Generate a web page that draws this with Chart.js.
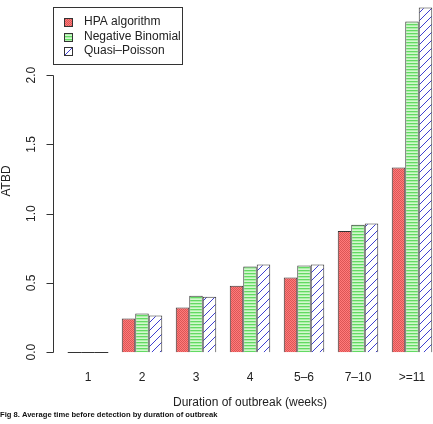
<!DOCTYPE html>
<html>
<head>
<meta charset="utf-8">
<script src="https://cdn.jsdelivr.net/npm/chart.js@4/dist/chart.umd.min.js"></script>
<style>
  html, body { margin: 0; padding: 0; background: #fff; overflow: hidden; }
  #wrap { position: absolute; left: 0; top: 0; width: 460px; height: 424px; }
</style>
</head>
<body>
<div id="wrap"><canvas id="chart" width="460" height="424"></canvas></div>
<script>
const categories = ['1', '2', '3', '4', '5\u20136', '7\u201310', '>=11']
const seriesNames = ['HPA algorithm', 'Negative Binomial', 'Quasi\u2013Poisson']
const hpa = [0, 0.243, 0.323, 0.479, 0.539, 0.874, 1.334]
const negBinomial = [0, 0.279, 0.407, 0.619, 0.626, 0.919, 2.388]
const quasiPoisson = [0, 0.265, 0.400, 0.633, 0.633, 0.929, 2.489]
const yTicks = [0, 0.5, 1, 1.5, 2]
const yTickLabels = ['0.0', '0.5', '1.0', '1.5', '2.0']
const xTitle = 'Duration of outbreak (weeks)'
const yTitle = 'ATBD'
const caption = 'Fig 8. Average time before detection by duration of outbreak'

const FONT = '"Liberation Sans", Arial, Helvetica, sans-serif'

function makePattern (w, h, paint) {
  const c = document.createElement('canvas')
  c.width = w
  c.height = h
  const g = c.getContext('2d')
  paint(g)
  return g.createPattern(c, 'repeat')
}

// red, dense cross shading
const hpaFill = makePattern(2, 2, g => {
  g.fillStyle = '#ff7b7b'
  g.fillRect(0, 0, 2, 2)
  g.fillStyle = '#dc5656'
  g.fillRect(0, 0, 1, 1)
  g.fillRect(1, 1, 1, 1)
})
// green, horizontal lines
const nbFill = makePattern(1, 3, g => {
  g.fillStyle = '#62da62'
  g.fillRect(0, 0, 1, 1)
  g.fillStyle = '#aef0aa'
  g.fillRect(0, 1, 1, 1)
  g.fillStyle = '#d2f8ce'
  g.fillRect(0, 2, 1, 1)
})
// white, blue diagonal lines (crisp pixels)
const qpFill = makePattern(8, 8, g => {
  g.fillStyle = '#ffffff'
  g.fillRect(0, 0, 8, 8)
  g.fillStyle = '#4040d0'
  for (let i = 0; i < 8; i++) g.fillRect(i, 7 - i, 1, 1)
})
const fills = [hpaFill, nbFill, qpFill]

const rAxes = {
  id: 'rAxes',
  afterDatasetsDraw (chart) {
    const ctx = chart.ctx
    // zero-height bars show as a flat line
    ctx.save()
    ctx.strokeStyle = '#333'
    ctx.lineWidth = 1
    chart.data.datasets.forEach((ds, i) => {
      chart.getDatasetMeta(i).data.forEach((bar, j) => {
        if (ds.data[j] === 0) {
          ctx.beginPath()
          ctx.moveTo(bar.x - bar.width / 2, Math.round(bar.y) + 0.5)
          ctx.lineTo(bar.x + bar.width / 2, Math.round(bar.y) + 0.5)
          ctx.stroke()
        }
      })
    })
    ctx.restore()
  },
  afterDraw (chart) {
    const ctx = chart.ctx
    const y = chart.scales.y
    const x = chart.scales.x
    const axisX = 53.5
    ctx.save()
    ctx.strokeStyle = '#333'
    ctx.lineWidth = 1
    ctx.beginPath()
    ctx.moveTo(axisX, Math.round(y.getPixelForValue(yTicks[0])) + 0.5)
    ctx.lineTo(axisX, Math.round(y.getPixelForValue(yTicks[yTicks.length - 1])) + 0.5)
    yTicks.forEach(v => {
      const py = Math.round(y.getPixelForValue(v)) + 0.5
      ctx.moveTo(axisX, py)
      ctx.lineTo(axisX - 7, py)
    })
    ctx.stroke()

    ctx.fillStyle = '#222'
    ctx.font = '12px ' + FONT
    ctx.textAlign = 'center'
    ctx.textBaseline = 'middle'
    yTicks.forEach((v, i) => {
      ctx.save()
      ctx.translate(32, y.getPixelForValue(v))
      ctx.rotate(-Math.PI / 2)
      ctx.fillText(yTickLabels[i], 0, 0)
      ctx.restore()
    })
    categories.forEach((c, i) => {
      ctx.fillText(c, x.getPixelForValue(i), 378)
    })
    ctx.fillText(xTitle, x.getPixelForValue(3), 403)
    ctx.save()
    ctx.translate(6.5, (chart.chartArea.top + chart.chartArea.bottom) / 2 - 2)
    ctx.rotate(-Math.PI / 2)
    ctx.fillText(yTitle, 0, 0)
    ctx.restore()

    // legend
    ctx.fillStyle = '#fff'
    ctx.fillRect(53.5, 7.5, 129, 57)
    ctx.strokeRect(53.5, 7.5, 129, 57)
    ctx.textAlign = 'left'
    seriesNames.forEach((name, i) => {
      const cy = 22 + i * 14.5
      ctx.fillStyle = fills[i]
      ctx.fillRect(64.5, Math.round(cy) - 3.5, 8, 8)
      ctx.strokeStyle = '#333'
      ctx.strokeRect(64.5, Math.round(cy) - 3.5, 8, 8)
      ctx.fillStyle = '#222'
      ctx.fillText(name, 84, cy)
    })

    ctx.font = 'bold 7.6px ' + FONT
    ctx.fillStyle = '#111'
    ctx.fillText(caption, 0, 415)
    ctx.restore()
  }
}

// eslint-disable-next-line no-new
new Chart(document.getElementById('chart'), {
  type: 'bar',
  data: {
    labels: categories,
    datasets: [hpa, negBinomial, quasiPoisson].map((values, i) => ({
      label: seriesNames[i],
      data: values,
      backgroundColor: fills[i],
      borderColor: '#333',
      borderWidth: 1,
      categoryPercentage: 0.75,
      barPercentage: 1
    }))
  },
  options: {
    responsive: false,
    devicePixelRatio: 1,
    animation: false,
    layout: { padding: { left: 61, right: 21, top: 0, bottom: 58 } },
    plugins: { legend: { display: false }, tooltip: { enabled: false } },
    scales: {
      x: { display: false, offset: true },
      y: { display: false, min: -0.1, max: 2.5426 }
    }
  },
  plugins: [rAxes]
})
</script>
</body>
</html>
